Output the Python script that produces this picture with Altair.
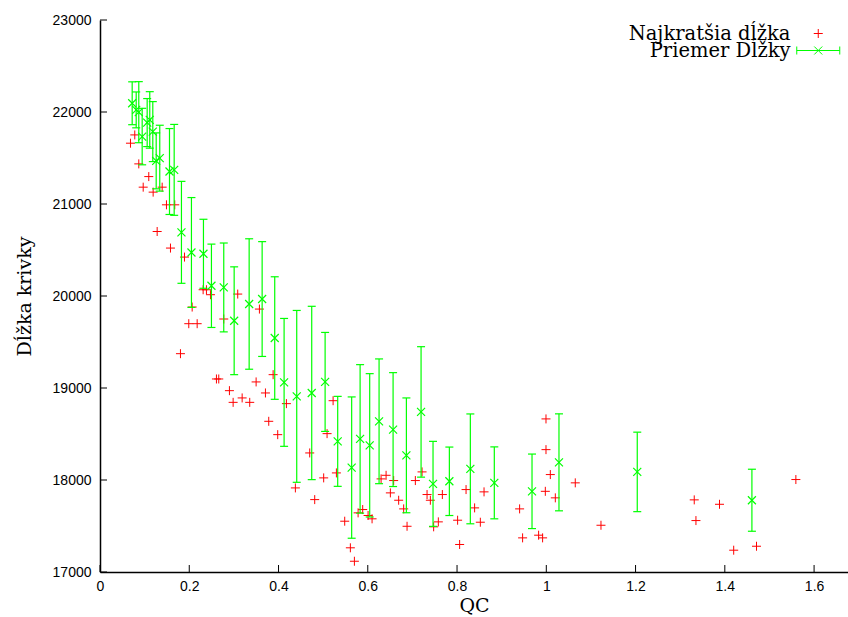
import altair as alt
import pandas as pd

# ---- data ----
# Najkratšia dĺžka (red +)
red_qc = [0.0683, 0.0779, 0.0869, 0.0968, 0.1093, 0.1191, 0.1393, 0.1489, 0.1675, 0.1281,
          0.1579, 0.1893, 0.1803, 0.2065, 0.1989, 0.2177, 0.2311, 0.2385, 0.2475, 0.2773,
          0.3086, 0.3572, 0.2609, 0.2661, 0.2900, 0.2983, 0.3185, 0.3355, 0.3498, 0.3707,
          0.3879, 0.3781, 0.3982, 0.4177, 0.4699, 0.5088, 0.5223,
          0.4378, 0.4811, 0.5012, 0.5297, 0.5483, 0.5610, 0.5700, 0.5783, 0.5886, 0.6007,
          0.6096, 0.6298, 0.6410, 0.6506, 0.6580, 0.6692, 0.6804, 0.6880, 0.7066, 0.7216,
          0.7328, 0.7402, 0.7476, 0.7581, 0.7671, 0.8013, 0.8058, 0.8202, 0.8394, 0.8522,
          0.8605, 0.9402, 0.9469, 0.9828, 0.9917, 0.9993, 0.9993, 1.0090, 0.9978, 1.0202,
          1.0649, 1.1225, 1.3315, 1.3353, 1.3881, 1.4199, 1.4710, 1.5592]
red_len = [21661, 21751, 21436, 21183, 21298, 21129, 21183, 20991, 20991, 20701,
           20521, 20423, 19373, 19880, 19699, 19699, 20068, 20068, 20014, 19750,
           20021, 19858, 19098, 19098, 18971, 18844, 18892, 18844, 19066, 18946,
           19145, 18638, 18493, 18830, 18294, 18504, 18862,
           17914, 17787, 18023, 18077, 17552, 17263, 17117, 17643, 17679, 17614,
           17578, 18012, 18051, 17860, 17994, 17780, 17686, 17497, 17994, 18088,
           17842, 17780, 17491, 17545, 17842, 17563, 17299, 17896, 17697, 17541,
           17871, 17686, 17371, 17400, 17371, 18664, 18330, 18059, 17877, 17806,
           17969, 17508, 17784, 17559, 17736, 17237, 17280, 18005]

# Priemer Dĺžky (green, mean with error bars)
grn_qc = [0.0721, 0.0811, 0.0869, 0.0945, 0.1057, 0.1115, 0.1183, 0.1259, 0.1339, 0.1557,
          0.1662, 0.1825, 0.2049, 0.2318, 0.2497, 0.2773, 0.3006, 0.3342, 0.3633, 0.3915,
          0.4125, 0.4408, 0.4744, 0.5044, 0.5326, 0.5639, 0.5828, 0.6043, 0.6253, 0.6567,
          0.6865, 0.7194, 0.7462, 0.7828, 0.8298, 0.8835, 0.9680, 1.0284, 1.2038, 1.4607]
grn_mean = [22095, 22023, 21998, 21733, 21885, 21914, 21787, 21469, 21498, 21353,
            21371, 20692, 20473, 20459, 20111, 20093, 19731, 19913, 19967, 19543,
            19061, 18909, 18946, 19066, 18420, 18135, 18447, 18377, 18638, 18548,
            18268, 18740, 17958, 17986, 18121, 17969, 17877, 18192, 18088, 17780]
grn_err = [233, 195, 332, 307, 261, 307, 326, 304, 358, 467,
           494, 554, 597, 375, 453, 483, 586, 709, 624, 666,
           695, 934, 942, 538, 489, 768, 807, 779, 678, 619,
           624, 709, 462, 372, 597, 391, 405, 527, 432, 337]

x_ticks = [0, 0.2, 0.4, 0.6, 0.8, 1.0, 1.2, 1.4, 1.6]
y_ticks = [17000, 18000, 19000, 20000, 21000, 22000, 23000]

L1 = "Najkratšia dĺžka"
L2 = "Priemer Dĺžky"
RED = "#ff0000"
GREEN = "#00ff00"

PLUS = "M-0.9,0H0.9M0,-0.9V0.9"
ERRSYM = "M-4.3,0H4.3M-4.3,-0.8V0.8M4.3,-0.8V0.8M-0.8,-0.8L0.8,0.8M-0.8,0.8L0.8,-0.8"
XMARK = "M-1,-1L1,1M-1,1L1,-1"

W, H = 748, 552

red_df = pd.DataFrame({"qc": red_qc, "len": red_len, "series": L1})
grn_df = pd.DataFrame({"qc": grn_qc, "mean": grn_mean, "err": grn_err, "series2": L2})

xscale = alt.Scale(domain=[0, 1.676], nice=False, zero=False)
yscale = alt.Scale(domain=[17000, 23000], nice=False, zero=False)

common_axis = dict(grid=False, ticks=False, domainColor="black", domainWidth=1.5,
                   labelFont="Liberation Sans", labelFontSize=14, labelColor="black",
                   titleFont="DejaVu Serif", titleFontSize=19, titleFontWeight="normal",
                   titleColor="black", labelFlush=False)
xaxis = alt.Axis(values=x_ticks, format="~g", title="QC", labelPadding=7,
                 titlePadding=3, **common_axis)
yaxis = alt.Axis(values=y_ticks, format="d", title="Dĺžka krivky", labelPadding=9,
                 titlePadding=18, **common_axis)


def X(f):
    return alt.X(f, type="quantitative", scale=xscale, axis=xaxis)


def Y(f):
    return alt.Y(f, type="quantitative", scale=yscale, axis=yaxis)


leg_common = dict(title=None, orient="none", legendX=708.5,
                  symbolSize=100, symbolStrokeWidth=1, labelFont="DejaVu Serif",
                  labelFontSize=19.5, labelColor="black", labelAlign="right",
                  labelOffset={"expr": "-37.5"}, labelLimit=400, padding=0)
legA = alt.Legend(legendY=3.75, **leg_common)
legB = alt.Legend(legendY=20.75, symbolType=ERRSYM, **leg_common)

red = alt.Chart(red_df).mark_point(filled=False, strokeWidth=1, size=100, opacity=1).encode(
    x=X("qc"), y=Y("len"),
    color=alt.Color("series:N", scale=alt.Scale(domain=[L1], range=[RED]), legend=legA),
    shape=alt.Shape("series:N", scale=alt.Scale(domain=[L1], range=[PLUS]), legend=legA),
)

gbase = alt.Chart(grn_df).transform_calculate(
    lo="datum.mean - datum.err", hi="datum.mean + datum.err")

bars = gbase.mark_rule(color=GREEN, strokeWidth=1.2).encode(
    x=X("qc"), y=Y("lo:Q"), y2="hi:Q")
cap_lo = gbase.mark_tick(orient="horizontal", color=GREEN, size=8, thickness=1.2, opacity=1).encode(
    x=X("qc"), y=Y("lo:Q"))
cap_hi = gbase.mark_tick(orient="horizontal", color=GREEN, size=8, thickness=1.2, opacity=1).encode(
    x=X("qc"), y=Y("hi:Q"))
marks = gbase.mark_point(shape=XMARK, size=64, filled=False, color=GREEN, strokeWidth=1.2,
                         opacity=1).encode(x=X("qc"), y=Y("mean"))

# legend entry for the green series only (draws nothing itself)
green_key = gbase.transform_filter("datum.qc < 0").mark_point(
    filled=False, strokeWidth=1, size=100, opacity=1).encode(
    x=X("qc"), y=Y("mean"),
    stroke=alt.Stroke("series2:N", scale=alt.Scale(domain=[L2], range=[GREEN]), legend=legB))

# inward ticks, as gnuplot draws them
yt = alt.Chart(pd.DataFrame({"v": y_ticks})).mark_rule(color="black", strokeWidth=1).encode(
    y=Y("v"), x=alt.value(0), x2=alt.value(7))
xt = alt.Chart(pd.DataFrame({"v": x_ticks})).mark_rule(color="black", strokeWidth=1).encode(
    x=X("v"), y=alt.value(H), y2=alt.value(H - 7))

chart = alt.layer(red, bars, cap_lo, cap_hi, marks, green_key, yt, xt).properties(
    width=W, height=H,
    autosize=alt.AutoSizeParams(type="none"),
    padding={"left": 100, "top": 20, "right": 0, "bottom": 45},
    background="white",
).configure_view(stroke=None)

chart.save("out.html", embed_options={"renderer": "svg", "actions": False})
